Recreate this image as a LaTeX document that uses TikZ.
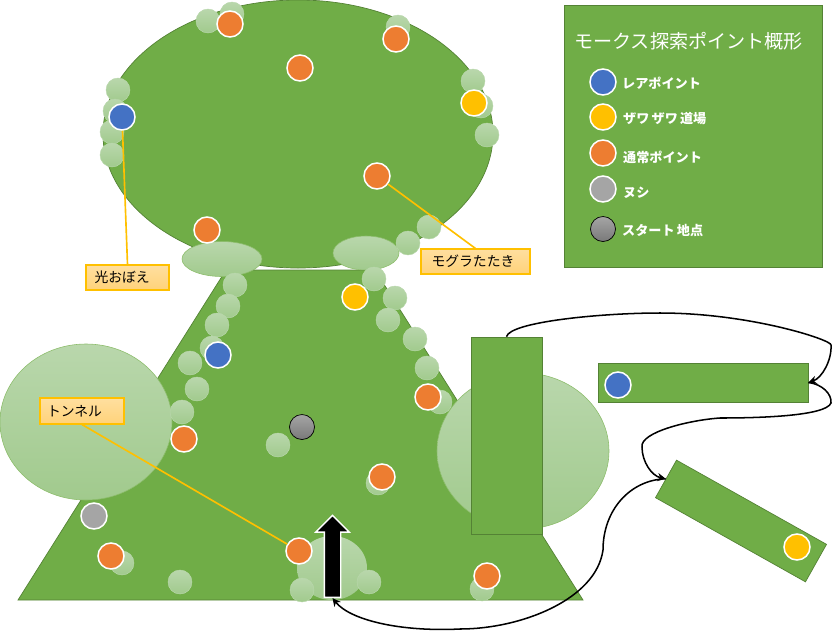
\documentclass[tikz,border=0pt]{standalone}
\usepackage{fontspec}
\setmainfont{Noto Sans CJK JP}
\usetikzlibrary{arrows.meta,positioning,shapes.geometric,shapes.arrows}
\definecolor{grass}{HTML}{70AD47}
\definecolor{grassline}{HTML}{548235}
\definecolor{paletop}{HTML}{B9D7AC}
\definecolor{palebot}{HTML}{A1CA8D}
\definecolor{rarefill}{HTML}{4472C4}
\definecolor{zawafill}{HTML}{FFC000}
\definecolor{normalfill}{HTML}{ED7D31}
\definecolor{nushifill}{HTML}{A5A5A5}
\definecolor{memotop}{HTML}{FFDF9F}
\definecolor{memobot}{HTML}{FFD27A}
\newcommand{\pxu}{0.03cm}
\tikzset{
  land/.style={draw=grassline,fill=grass,line width=0.6pt,inner sep=0pt},
  pale/.style={ellipse,draw=grass!80!white,top color=paletop,bottom color=palebot,line width=0.5pt,inner sep=0pt},
  bubble/.style={circle,top color=paletop,bottom color=palebot,draw=paletop,line width=0.4pt,inner sep=0pt,minimum size=24*\pxu},
  spot/.style={circle,draw=white,line width=1.3pt,inner sep=0pt,minimum size=26*\pxu},
  startspot/.style={circle,draw=black,line width=0.6pt,inner sep=0pt,minimum size=25*\pxu,top color=nushifill,bottom color=gray!95!black},
  memo/.style={draw=zawafill,top color=memotop,bottom color=memobot,line width=0.9pt,inner sep=0pt,font=\fontsize{11.8pt}{12pt}\selectfont,text=black},
  lead/.style={draw=zawafill,line width=1.4pt},
  route/.style={draw=black,line width=1.3pt,-{Stealth[length=7pt,width=7pt]}},
  legendtext/.style={anchor=west,inner sep=0pt,text=white,font=\fontsize{11.2pt}{12pt}\selectfont\bfseries}
}
\begin{document}
\begin{tikzpicture}[x=\pxu,y=-\pxu]
\useasboundingbox (0,0) rectangle (835,632);
\draw[land] (18,600) -- (583,600) -- (375,270) -- (226,270) -- cycle;
\node[land,ellipse,minimum width=390*\pxu,minimum height=268*\pxu] (head) at (298,134) {};
\node[pale,minimum width=172*\pxu,minimum height=156*\pxu] (lefthall) at (86,422) {};
\node[pale,minimum width=172*\pxu,minimum height=156*\pxu] (righthall) at (523,451) {};
\node[pale,draw=none,minimum width=70*\pxu,minimum height=64*\pxu] (gatehall) at (332,568) {};
\node[pale,minimum width=80*\pxu,minimum height=35*\pxu] (leftneck) at (222,259) {};
\node[pale,minimum width=66*\pxu,minimum height=34*\pxu] (rightneck) at (366,253) {};
\foreach \x/\y in {208/21,232/14,398/27,473/81,481/106,487/135,118/90,115/111,112/132,112/155,429/227,408/243,374/279,395/298,388/320,415/339,427/368,440/402,235/285,228/306,217/325,212/348,190/363,197/389,182/412,278/445,378/483,122/563,180/582,302/590,369/582,482/589}
  \node[bubble] at (\x,\y) {};
\foreach \x/\y [count=\i] in {230/24,396/39,300/68,377/176,207/230,428/397,184/439,382/477,299/551,111/556,487/576}
  \node[spot,fill=normalfill] (normal\i) at (\x,\y) {};
\node[spot,fill=rarefill] (rare1) at (122,117) {};
\node[spot,fill=rarefill] (rare2) at (218,355) {};
\node[spot,fill=zawafill] (zawa1) at (474,103) {};
\node[spot,fill=zawafill] (zawa2) at (355,297) {};
\node[spot,fill=nushifill] (nushi) at (94,516) {};
\node[startspot] (start) at (302,427) {};
\node[single arrow,rotate=90,draw=white,fill=black,line width=1.2pt,inner sep=7.5*\pxu,minimum height=82*\pxu,single arrow head extend=8.5*\pxu] (gate) at (332.5,560.5) {};
\node[land,minimum width=71*\pxu,minimum height=197*\pxu] (roomtall) at (506.5,435.5) {};
\node[land,minimum width=210*\pxu,minimum height=39*\pxu] (roomwide) at (703,382.5) {};
\node[land,rotate=-29.3,minimum width=172*\pxu,minimum height=43*\pxu] (roomslant) at (741,521) {};
\node[spot,fill=rarefill] (rare3) at (618,385) {};
\node[spot,fill=zawafill] (zawa3) at (797,547) {};
\node[memo,minimum width=83*\pxu,minimum height=25*\pxu,text width=66*\pxu] (hikari) at (127.5,277.5) {光おぼえ};
\node[memo,minimum width=84*\pxu,minimum height=26*\pxu,text width=70*\pxu] (tunnel) at (82,411) {トンネル};
\node[memo,minimum width=109*\pxu,minimum height=25*\pxu,text width=88*\pxu] (mogura) at (475.5,261.5) {モグラたたき};
\draw[lead] (hikari.north) -- (rare1);
\draw[lead] (tunnel.south) -- (normal9);
\draw[lead] (mogura.north) -- (normal4);
\draw[route] (roomtall.north) .. controls (510,322) and (600,313) .. (660,313) .. controls (750,313) and (832,340) .. (831,345) .. controls (832,360) and (822,378) .. (roomwide.east);
\draw[route] (roomwide.east) .. controls (822,384) and (832,394) .. (831,403) .. controls (826,416) and (760,418) .. (720,418) .. controls (690,420) and (640,432) .. (642,447) .. controls (642,462) and (652,476) .. (roomslant.west);
\draw[route] (roomslant.west) .. controls (630,480) and (603,510) .. (603,550) .. controls (596,600) and (520,629) .. (460,629) .. controls (400,632) and (350,620) .. (gate.west);
\node[land,minimum width=258*\pxu,minimum height=262*\pxu] (legend) at (693,136) {};
\node[anchor=west,inner sep=0pt,text=white,font=\fontsize{16.3pt}{18pt}\selectfont] (title) at (574,41) {モークス探索ポイント概形};
\node[spot,fill=rarefill] (keyrare) at (603,82) {};
\node[spot,fill=zawafill] (keyzawa) at (603,117) {};
\node[spot,fill=normalfill] (keynormal) at (603,153) {};
\node[spot,fill=nushifill] (keynushi) at (603,189) {};
\node[startspot] (keystart) at (603,229) {};
\node[legendtext] (textrare) at (622,83) {レアポイント};
\node[legendtext] (textzawa) at (623,119) {ザワ\,ザワ\,道場};
\node[legendtext] (textnormal) at (623,157) {通常ポイント};
\node[legendtext] (textnushi) at (623,193) {ヌシ};
\node[legendtext] (textstart) at (622,230) {スタート\,地点};
\end{tikzpicture}
\end{document}
